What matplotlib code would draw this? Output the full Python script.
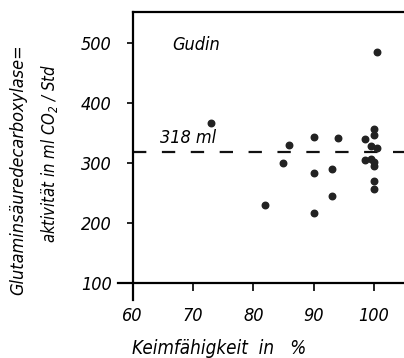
import matplotlib
matplotlib.use("Agg")
from matplotlib import pyplot as plt

# Keimfähigkeit (%) and enzyme activity (ml CO2 / Std)
germination = [73, 82, 85, 86, 90, 90, 90, 93, 93, 94,
               98.5, 98.5, 99.5, 99.5, 100, 100, 100.5, 100, 100, 100, 100, 100.5]
activity = [367, 230, 300, 329, 343, 283, 216, 289, 244, 342,
            340, 304, 328, 306, 356, 346, 324, 301, 295, 270, 256, 485]
mean_value = 318
mean_label = "318 ml"
variety = "Gudin"
x_ticks = [60, 70, 80, 90, 100]
y_ticks = [100, 200, 300, 400, 500]

# Condensed oblique comes closest to the narrow technical lettering
plt.rcParams["font.family"] = ["DejaVu Sans"]
plt.rcParams["font.style"] = "italic"
plt.rcParams["font.stretch"] = "condensed"

fig = plt.figure(figsize=(4.04, 3.58), dpi=100)
ax = fig.add_axes([0.291, 0.1626, 0.709, 0.804])

# Scatter and mean line
ax.scatter(germination, activity, s=22, color="#222222", zorder=3)
ax.hlines(mean_value, 60, 105, colors="#111111", linewidth=1.6,
          linestyles=(0, (6, 7)))
ax.text(64.5, mean_value + 8, mean_label, fontsize=13, va="bottom", ha="left")
ax.text(66.5, 496, variety, fontsize=13, va="center", ha="left")

# Axes
ax.set_xlim(57.5, 105)
ax.set_ylim(72, 551)
ax.spines["left"].set_position(("data", 60))
ax.spines["bottom"].set_position(("data", 100))
ax.spines["top"].set_bounds(60, 105)
ax.spines["right"].set_visible(False)
for side in ["left", "bottom", "top"]:
    ax.spines[side].set_linewidth(1.6)

ax.set_xticks(x_ticks)
ax.set_yticks(y_ticks)
ax.tick_params(axis="x", direction="out", length=6, width=1.2, pad=11, labelsize=13)
ax.tick_params(axis="y", direction="out", length=4, width=1.2, pad=11, labelsize=13)

# Labels
ax.text(-0.348, 0.451, "Glutaminsäuredecarboxylase=", transform=ax.transAxes,
        rotation=90, fontsize=13, ha="center", va="center")
ax.text(-0.236, 0.51, "aktivität in ml CO$_2$ / Std", transform=ax.transAxes,
        rotation=90, fontsize=12, ha="center", va="center")
fig.text(0.327, 0.01, "Keimfähigkeit  in   %", fontsize=13.5, ha="left", va="baseline")

plt.savefig("out.png", dpi=100)
